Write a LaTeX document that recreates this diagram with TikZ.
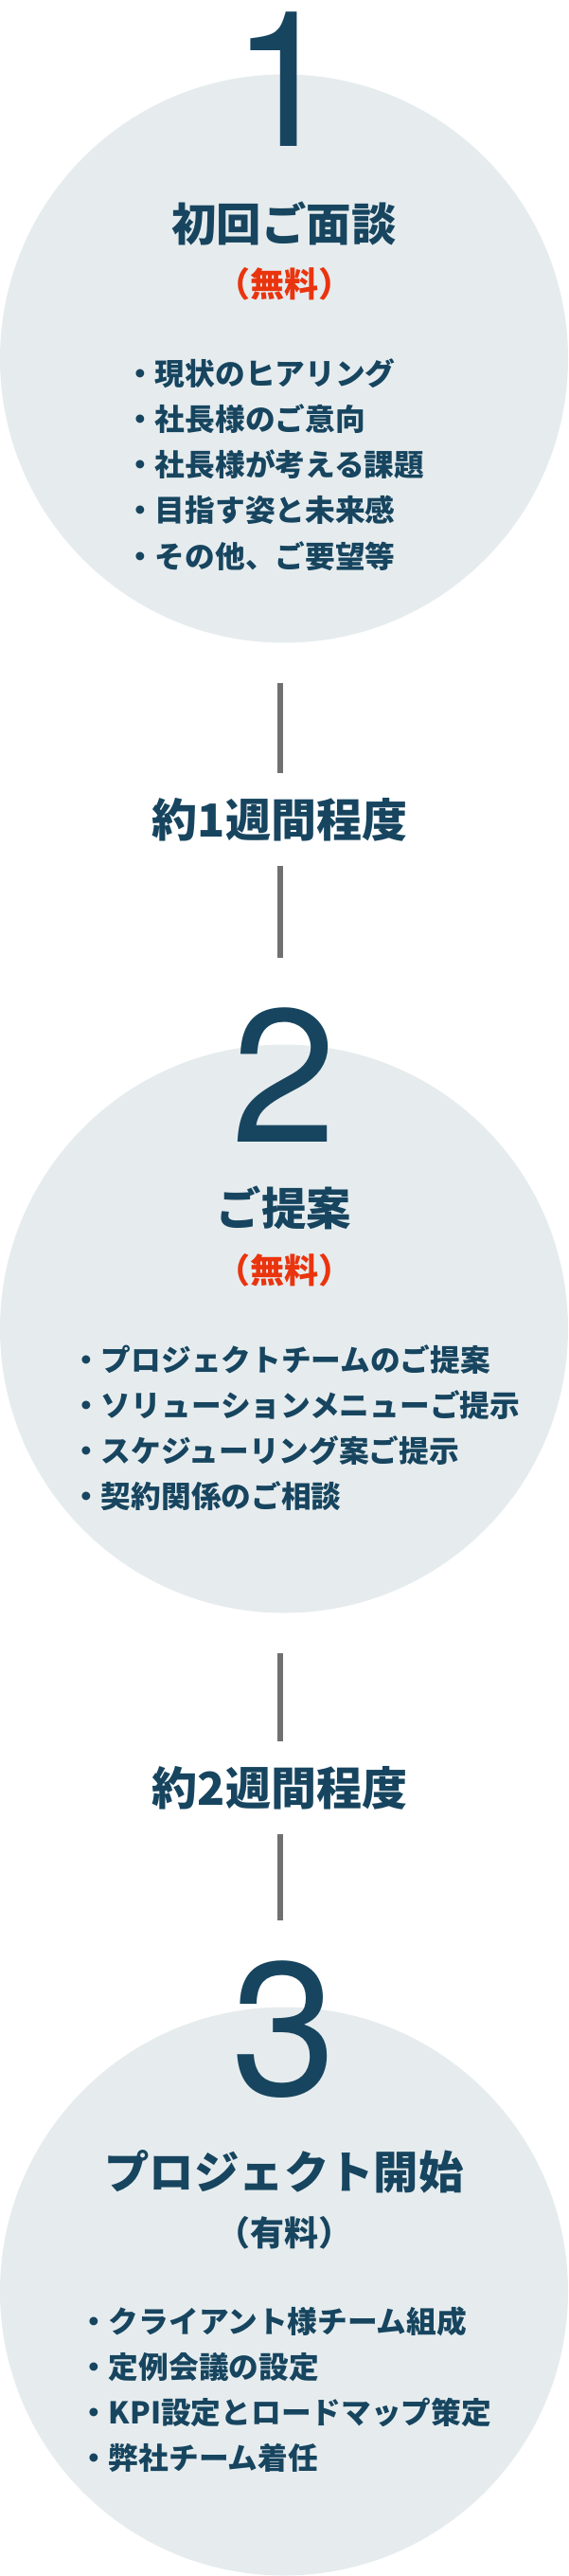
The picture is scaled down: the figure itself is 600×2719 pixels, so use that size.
\documentclass[tikz,border=0pt]{standalone}
\usepackage{fontspec}
\setmainfont{Noto Sans CJK JP}
\newfontfamily\numfont{TeX Gyre Heros}
\definecolor{deepblue}{RGB}{23,69,95}
\definecolor{freered}{RGB}{234,52,14}
\definecolor{pale}{RGB}{230,236,238}
\definecolor{bar}{RGB}{112,112,112}

\begin{document}
\begin{tikzpicture}[x=1pt, y=-1pt,
    disc/.style={circle, fill=pale, minimum size=600pt, inner sep=0},
    num/.style={anchor=base, inner sep=0, text=deepblue, font=\numfont\fontsize{200}{200}\selectfont},
    title/.style={anchor=base, inner sep=0, text=deepblue, font=\bfseries\fontsize{47.4}{50}\selectfont},
    fee/.style={anchor=base, inner sep=0, font=\bfseries\fontsize{36}{40}\selectfont},
    item/.style={anchor=base west, inner sep=0, text=deepblue, font=\bfseries\fontsize{31.7}{34}\selectfont},
    span/.style={inner sep=0, minimum height=98pt, text=deepblue, font=\bfseries\fontsize{48}{50}\selectfont},
    conn/.style={draw=bar, line width=6pt}]
    \useasboundingbox (0,0) rectangle (600,2719);

    \node[disc] (c1) at (300,378.5) {};
    \node[disc] (c2) at (300,1402.5) {};
    \node[disc] (c3) at (300,2418.5) {};

    \node[num] (n1) at (300,154) {1};
    \node[num] (n2) at (300,1205) {2};
    \node[num] (n3) at (300,2211) {3};

    \node[title] (t1) at (300,254) {初回ご面談};
    \node[fee, text=freered] (f1) at (300,313.7) {（無料）};
    \node[item] (a1) at (132,406) {・現状のヒアリング};
    \node[item] (a2) at (132,454.3) {・社長様のご意向};
    \node[item] (a3) at (132,502.6) {・社長様が考える課題};
    \node[item] (a4) at (132,550.9) {・目指す姿と未来感};
    \node[item] (a5) at (132,599.2) {・その他、ご要望等};

    \node[title] (t2) at (300,1293) {ご提案};
    \node[fee, text=freered] (f2) at (300,1354) {（無料）};
    \node[item] (b1) at (75,1447) {・プロジェクトチームのご提案};
    \node[item] (b2) at (75,1495.3) {・ソリューションメニューご提示};
    \node[item] (b3) at (75,1543.6) {・スケジューリング案ご提示};
    \node[item] (b4) at (75,1591.9) {・契約関係のご相談};

    \node[title] (t3) at (300,2310) {プロジェクト開始};
    \node[fee, text=deepblue] (f3) at (300,2370) {（有料）};
    \node[item] (d1) at (83,2462) {・クライアント様チーム組成};
    \node[item] (d2) at (83,2510.3) {・定例会議の設定};
    \node[item] (d3) at (83,2558.6) {・KPI設定とロードマップ策定};
    \node[item] (d4) at (83,2606.9) {・弊社チーム着任};

    \node[span] (w1) at (295.5,865) {約1週間程度};
    \node[span] (w2) at (295.5,1887) {約2週間程度};

    \draw[conn, shorten <=42pt] (c1.south -| w1) -- (w1.north);
    \draw[conn, shorten >=91pt] (w1.south) -- (w1 |- c2.north);
    \draw[conn, shorten <=42pt] (c2.south -| w2) -- (w2.north);
    \draw[conn, shorten >=91pt] (w2.south) -- (w2 |- c3.north);
\end{tikzpicture}
\end{document}
